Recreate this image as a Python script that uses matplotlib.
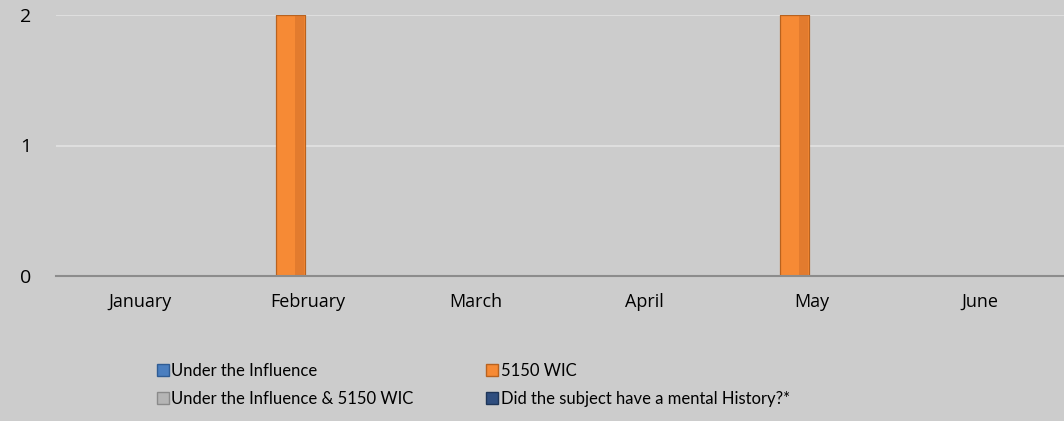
import matplotlib
matplotlib.use("Agg")
import matplotlib.pyplot as plt
import numpy as np
from matplotlib.lines import Line2D

months = ["January", "February", "March", "April", "May", "June"]
series_names = ["Under the Influence", "5150 WIC", "Under the Influence & 5150 WIC",
                "Did the subject have a mental History?*"]
under_influence = [0, 0, 0, 0, 0, 0]
wic_5150 = [0, 2, 0, 0, 2, 0]
under_and_5150 = [0, 0, 0, 0, 0, 0]
mental_history = [0, 0, 0, 0, 0, 0]
series_values = [under_influence, wic_5150, under_and_5150, mental_history]
colors = ["#4a7ebf", "#f68a35", "#b5b5b5", "#2f4e7f"]
edges = ["#2f5c94", "#b8621f", "#8a8a8a", "#1e3558"]
shades = ["#40719f", "#e27b2e", "#a5a5a5", "#29456f"]

plt.rcParams['font.family'] = ['Lato', 'DejaVu Sans']
bg = "#cccccc"
fig = plt.figure(figsize=(10.64, 4.21), dpi=100, facecolor=bg)
ax = fig.add_axes([56/1064, (421-276)/421, 1-56/1064, (276-15)/421], facecolor=bg)

x = np.arange(len(months))
spacing = 0.208
width = 0.173
for i, (vals, c, e, s) in enumerate(zip(series_values, colors, edges, shades)):
    offs = (i - 1.5) * spacing
    for xi, v in zip(x, vals):
        if v > 0:
            ax.bar(xi + offs, v, width, color=c, edgecolor=e, linewidth=0.8, zorder=3)
            # subtly darker right side to mimic bevel
            ax.bar(xi + offs + width*0.3, v, width*0.3, color=s, linewidth=0, zorder=4)
            ax.bar(xi + offs, v, width, color='none', edgecolor=e, linewidth=0.8, zorder=5)

ax.set_xlim(-0.5, 5.5)
ax.set_ylim(0, 2)
ax.set_yticks([0, 1, 2])
ax.set_xticks(x)
ax.set_xticklabels(months, family=['Open Sans', 'DejaVu Sans'], fontsize=13)
for t in ax.get_yticklabels():
    t.set_family(['Open Sans', 'DejaVu Sans'])
    t.set_fontsize(14)
ax.tick_params(axis='both', length=0, colors="#000000")
ax.tick_params(axis='y', pad=18)
ax.tick_params(axis='x', pad=12)
ax.grid(axis='y', color="#e2e2e2", linewidth=1.2, zorder=0)
ax.set_axisbelow(True)
for sp in ["top", "right", "left"]:
    ax.spines[sp].set_visible(False)
ax.spines["bottom"].set_color("#8c8c8c")
ax.spines["bottom"].set_linewidth(1.5)
ax.spines["bottom"].set_zorder(6)

handles = [Line2D([0], [0], marker='s', linestyle='none', markersize=8,
                  markerfacecolor=c, markeredgecolor=e) for c, e in zip(colors, edges)]
order = [0, 2, 1, 3]
fig.legend([handles[k] for k in order], [series_names[k] for k in order], ncol=2,
           loc='upper left', bbox_to_anchor=(150/1064, 1-356/421),
           frameon=False, fontsize=12, handlelength=0.7, handletextpad=0.15,
           columnspacing=4.4, labelspacing=0.75, borderaxespad=0)

fig.savefig("out.png", dpi=100, facecolor=bg)
